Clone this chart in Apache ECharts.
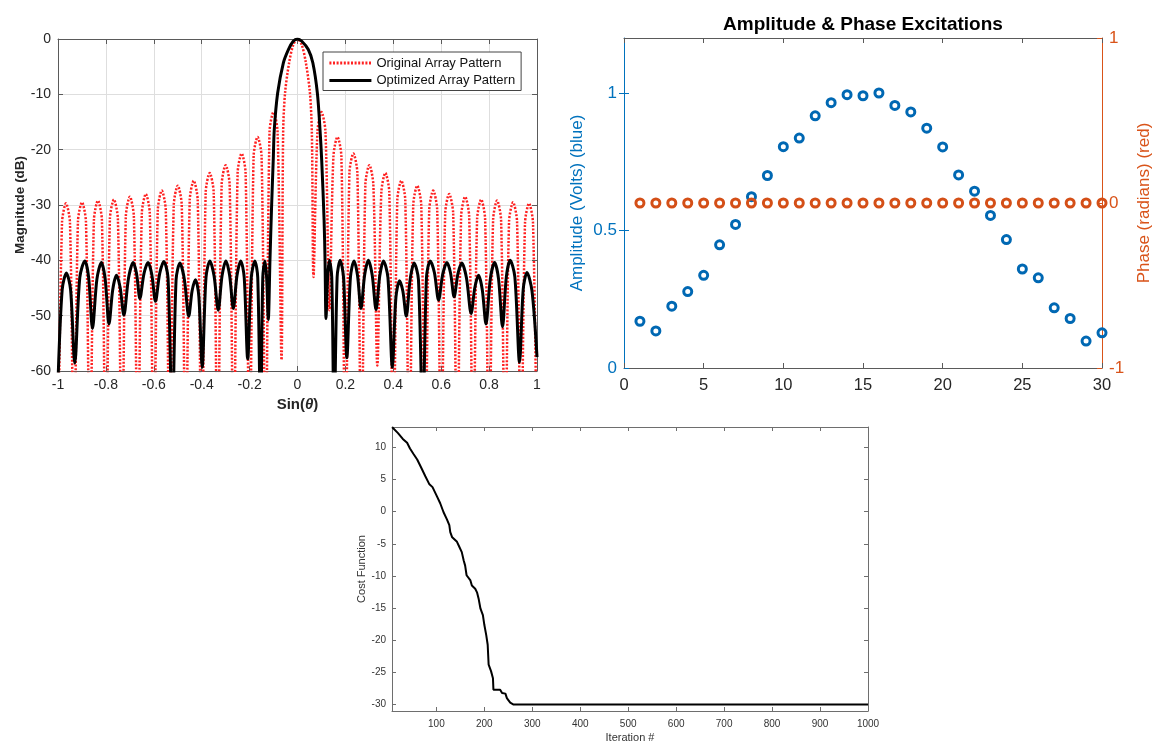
<!DOCTYPE html>
<html><head><meta charset="utf-8">
<script src="https://cdn.jsdelivr.net/npm/echarts@6/dist/echarts.min.js"></script>
<style>html,body{margin:0;padding:0;background:#fff}#c{width:1161px;height:744px}</style>
</head><body><div id="c"></div>
<script>
// ---------- Data ----------
// Top-left: array factor patterns, [sin(theta), dB]
const originalPattern = [
  [-1,-80],
  [-0.9833,-33.2],[-0.9667,-29.7],[-0.95,-33.2],[-0.9333,-80],
  [-0.9167,-33],[-0.9,-29.5],[-0.8833,-33],[-0.8667,-80],
  [-0.85,-32.7],[-0.8333,-29.2],[-0.8167,-32.7],[-0.8,-80],
  [-0.7833,-32.5],[-0.7667,-29.0],[-0.75,-32.5],[-0.7333,-80],
  [-0.7167,-32],[-0.7,-28.5],[-0.6833,-32],[-0.6667,-80],
  [-0.65,-31.5],[-0.6333,-28],[-0.6167,-31.5],[-0.6,-80],
  [-0.5833,-30.9],[-0.5667,-27.4],[-0.55,-30.9],[-0.5333,-80],
  [-0.5167,-30],[-0.5,-26.5],[-0.4833,-30],[-0.4667,-80],
  [-0.45,-29.1],[-0.4333,-25.6],[-0.4167,-29.1],[-0.4,-80],
  [-0.3833,-27.7],[-0.3667,-24.2],[-0.35,-27.7],[-0.3333,-80],
  [-0.3167,-26.3],[-0.3,-22.8],[-0.2833,-26.3],[-0.2667,-80],
  [-0.25,-24.2],[-0.2333,-20.7],[-0.2167,-24.2],[-0.2,-80],
  [-0.1833,-21.2],[-0.1667,-17.7],[-0.15,-21.2],[-0.1333,-80],
  [-0.1167,-16.7],[-0.1,-13.2],[-0.0833,-16.7],[-0.0667,-58],
  [-0.06,-17],[-0.052,-9.8],[-0.035,-4.3],[-0.018,-1.1],[0,0],
  [0.018,-1.1],[0.035,-4.3],[0.052,-9.8],[0.06,-17],[0.0667,-43],
  [0.0833,-16.7],[0.1,-13.2],[0.1167,-16.7],[0.1333,-49],
  [0.15,-21.2],[0.1667,-17.7],[0.1833,-21.2],[0.2,-80],
  [0.2167,-24.2],[0.2333,-20.7],[0.25,-24.2],[0.2667,-80],
  [0.2833,-26.3],[0.3,-22.8],[0.3167,-26.3],[0.3333,-59],
  [0.35,-27.7],[0.3667,-24.2],[0.3833,-27.7],[0.4,-80],
  [0.4167,-29.1],[0.4333,-25.6],[0.45,-29.1],[0.4667,-80],
  [0.4833,-30],[0.5,-26.5],[0.5167,-30],[0.5333,-80],
  [0.55,-30.9],[0.5667,-27.4],[0.5833,-30.9],[0.6,-80],
  [0.6167,-31.5],[0.6333,-28],[0.65,-31.5],[0.6667,-80],
  [0.6833,-32],[0.7,-28.5],[0.7167,-32],[0.7333,-80],
  [0.75,-32.5],[0.7667,-29],[0.7833,-32.5],[0.8,-80],
  [0.8167,-32.7],[0.8333,-29.2],[0.85,-32.7],[0.8667,-80],
  [0.8833,-33],[0.9,-29.5],[0.9167,-33],[0.9333,-80],
  [0.95,-33.2],[0.9667,-29.7],[0.9833,-33.2],[1,-80]
];
const optimizedPattern = [
  [-1,-62],[-0.9825,-45.3],[-0.965,-42.3],[-0.9475,-45.3],[-0.930,-58.6],
  [-0.909,-43.1],[-0.888,-40.1],[-0.872,-43.1],[-0.856,-52.3],
  [-0.8375,-43.4],[-0.819,-40.4],[-0.803,-43.4],[-0.787,-51.5],
  [-0.7715,-45.3],[-0.756,-42.7],[-0.7405,-44.9],[-0.725,-49.9],
  [-0.7055,-43.2],[-0.686,-40.4],[-0.672,-42.4],[-0.658,-46.9],
  [-0.641,-42.4],[-0.624,-40.4],[-0.6085,-42.5],[-0.593,-47.4],
  [-0.5755,-42.4],[-0.558,-40.2],[-0.5405,-43.2],[-0.523,-70],
  [-0.507,-43.5],[-0.491,-40.5],[-0.4725,-43.4],[-0.454,-50.1],
  [-0.44,-45.5],[-0.426,-43.5],[-0.412,-46.5],[-0.398,-59.3],
  [-0.382,-43.1],[-0.366,-40.1],[-0.3485,-42.8],[-0.331,-49.0],
  [-0.315,-42.8],[-0.299,-40.1],[-0.2835,-42.7],[-0.268,-48.7],
  [-0.2525,-42.7],[-0.237,-40.1],[-0.2225,-43.1],[-0.208,-57.8],
  [-0.193,-43.1],[-0.178,-40.1],[-0.166,-43.1],[-0.154,-70],
  [-0.145,-43.1],[-0.136,-40.1],[-0.129,-43.1],[-0.122,-50.7],
  [-0.115,-40],[-0.108,-30],[-0.101,-21.5],[-0.097,-16.4],[-0.083,-9.8],
  [-0.059,-4.3],[-0.038,-1.9],[-0.018,-0.4],[0,0],[0.018,-0.4],[0.045,-1.9],
  [0.064,-4.3],[0.083,-9.8],[0.094,-16.4],[0.101,-21.9],[0.111,-32.7],
  [0.115,-40],[0.119,-50.5],
  [0.126,-43],[0.133,-40],[0.143,-43],[0.153,-70],
  [0.1655,-43],[0.178,-40],[0.192,-43],[0.206,-57.6],
  [0.221,-43.1],[0.236,-40.1],[0.2505,-42.7],[0.265,-48.7],
  [0.2805,-42.6],[0.296,-40],[0.312,-42.7],[0.328,-48.9],
  [0.3435,-42.8],[0.359,-40.1],[0.3775,-43.1],[0.396,-59.3],
  [0.411,-46.7],[0.426,-43.7],[0.44,-45.6],[0.454,-50.1],
  [0.4705,-43.4],[0.487,-40.5],[0.505,-43.5],[0.523,-70],
  [0.5385,-43.1],[0.554,-40.1],[0.5715,-42.2],[0.589,-47.2],
  [0.6065,-42.5],[0.624,-40.4],[0.639,-42.3],[0.654,-46.6],
  [0.67,-42.4],[0.686,-40.5],[0.7055,-43.2],[0.725,-49.6],
  [0.7405,-44.9],[0.756,-42.7],[0.7715,-45.3],[0.787,-51.5],
  [0.805,-43.4],[0.823,-40.4],[0.8395,-43.4],[0.856,-52.0],
  [0.872,-43],[0.888,-40],[0.9075,-43],[0.927,-58.4],
  [0.9425,-45.2],[0.958,-42.2],[0.979,-45.5],[1,-57.5]
];

// Top-right: element excitations
const elementIndex = [1,2,3,4,5,6,7,8,9,10,11,12,13,14,15,16,17,18,19,20,21,22,23,24,25,26,27,28,29,30];
const amplitude = [0.170,0.135,0.225,0.278,0.337,0.448,0.522,0.623,0.700,0.805,
                   0.836,0.917,0.965,0.994,0.990,1.000,0.955,0.931,0.872,0.804,
                   0.702,0.643,0.555,0.467,0.360,0.328,0.219,0.180,0.098,0.128];
const phase = [0,0,0,0,0,0,0,0,0,0,0,0,0,0,0,0,0,0,0,0,0,0,0,0,0,0,0,0,0,0];
const amplitudeTicks = [0, 0.5, 1];

// Bottom: cost function convergence
const costIteration = [8,20,30,39,45,52,60,68,77,85,92,101,108,115,122,127,129,133,143,148,153,157,160,163,171,174,181,185,188,192,197,200,204,207,209,214,218,219,233,237,244,247,254,261,1000];
const costValue = [13.1,12.2,11.3,10.7,9.8,9.0,8.1,6.9,5.5,4.3,3.8,2.4,1.3,-0.1,-1.2,-2.1,-3.2,-4.0,-4.7,-5.5,-6.3,-7.6,-8.4,-9.9,-10.7,-11.5,-12.0,-12.6,-13.5,-15.1,-16.1,-17.6,-19.2,-20.7,-23.8,-24.8,-25.9,-27.7,-27.7,-28.2,-28.3,-29.0,-29.7,-30.0,-30.0];
const costXTicks = [100,200,300,400,500,600,700,800,900,1000];
const costYTicks = [-30,-25,-20,-15,-10,-5,0,5,10];

// ---------- Chart ----------
const FONT = '"Liberation Sans", Arial, Helvetica, sans-serif';
const AX = '#5a5a5a';
const LBL = '#262626';
const BLUE = '#0072BD';
const ORANGE = '#D95319';

const amplitudeData = elementIndex.map((n, i) => [n, amplitude[i]]);
const phaseData = elementIndex.map((n, i) => [n, phase[i]]);
const costData = costIteration.map((it, i) => [it, costValue[i]]);
const plain = v => String(v);

function mirror(base, pos) {
  return Object.assign({}, base, {
    position: pos, name: '',
    axisLabel: { show: false },
    splitLine: { show: false }
  });
}

const x0 = {
  type: 'value', gridIndex: 0, min: -1, max: 1, interval: 0.2,
  axisLine: { onZero: false, lineStyle: { color: AX, width: 1 } },
  axisTick: { inside: true, length: 5, lineStyle: { color: AX } },
  axisLabel: { fontSize: 14, color: LBL, margin: 7, fontFamily: FONT },
  splitLine: { show: true, lineStyle: { color: '#dedede', width: 1 } },
  name: '{a|Sin(}{b|θ}{a|)}', nameLocation: 'middle', nameGap: 26,
  nameTextStyle: { rich: {
    a: { fontSize: 15, fontWeight: 'bold', color: LBL, fontFamily: FONT },
    b: { fontSize: 15, fontWeight: 'bold', fontStyle: 'italic', color: LBL, fontFamily: FONT }
  } }
};
const y0 = {
  type: 'value', gridIndex: 0, min: -60, max: 0, interval: 10,
  axisLine: { onZero: false, lineStyle: { color: AX, width: 1 } },
  axisTick: { inside: true, length: 5, lineStyle: { color: AX } },
  axisLabel: { fontSize: 14, color: LBL, margin: 7, fontFamily: FONT },
  splitLine: { show: true, lineStyle: { color: '#dedede', width: 1 } },
  name: 'Magnitude (dB)', nameLocation: 'middle', nameGap: 31,
  nameTextStyle: { fontSize: 13.5, fontWeight: 'bold', color: LBL, fontFamily: FONT }
};

const x1 = {
  type: 'value', gridIndex: 1, min: 0, max: 30, interval: 5,
  axisLine: { onZero: false, lineStyle: { color: AX, width: 1 } },
  axisTick: { inside: true, length: 5, lineStyle: { color: AX } },
  axisLabel: { fontSize: 16.5, color: LBL, margin: 9, fontFamily: FONT },
  splitLine: { show: false }
};
const y1 = {
  type: 'value', gridIndex: 1, min: 0, max: 1.2, position: 'left',
  axisLine: { onZero: false, lineStyle: { color: BLUE, width: 1 } },
  axisTick: { inside: true, length: 5, customValues: amplitudeTicks, lineStyle: { color: BLUE } },
  axisLabel: { fontSize: 17, color: BLUE, margin: 7, customValues: amplitudeTicks, fontFamily: FONT },
  splitLine: { show: false },
  name: 'Amplitude (Volts) (blue)', nameLocation: 'middle', nameGap: 38,
  nameTextStyle: { fontSize: 17, color: BLUE, fontFamily: FONT }
};
const y1r = {
  type: 'value', gridIndex: 1, min: -1, max: 1, interval: 1, position: 'right',
  axisLine: { onZero: false, lineStyle: { color: ORANGE, width: 1 } },
  axisTick: { inside: true, length: 5, lineStyle: { color: ORANGE } },
  axisLabel: { fontSize: 17, color: ORANGE, margin: 7, fontFamily: FONT },
  splitLine: { show: false },
  name: 'Phase (radians) (red)', nameLocation: 'middle', nameGap: 34,
  nameTextStyle: { fontSize: 17, color: ORANGE, fontFamily: FONT }
};
const y1m = {
  type: 'value', gridIndex: 1, min: 0, max: 1.2, position: 'right',
  axisLine: { show: false },
  axisTick: { inside: true, length: 5, customValues: [0.5, 1], lineStyle: { color: BLUE } },
  axisLabel: { show: false }, splitLine: { show: false }
};

const x2 = {
  type: 'value', gridIndex: 2, min: 7.5, max: 1000,
  axisLine: { onZero: false, lineStyle: { color: '#6e6e6e', width: 1 } },
  axisTick: { inside: true, length: 4, customValues: costXTicks, lineStyle: { color: '#6e6e6e' } },
  axisLabel: { fontSize: 10, color: '#333', margin: 8, customValues: costXTicks, formatter: plain, fontFamily: FONT },
  splitLine: { show: false },
  name: 'Iteration #', nameLocation: 'middle', nameGap: 21,
  nameTextStyle: { fontSize: 11, color: '#333', fontFamily: FONT }
};
const y2 = {
  type: 'value', gridIndex: 2, min: -31, max: 13.15,
  axisLine: { onZero: false, lineStyle: { color: '#6e6e6e', width: 1 } },
  axisTick: { inside: true, length: 4, customValues: costYTicks, lineStyle: { color: '#6e6e6e' } },
  axisLabel: { fontSize: 10, color: '#333', margin: 6, customValues: costYTicks, formatter: plain, fontFamily: FONT },
  splitLine: { show: false },
  name: 'Cost Function', nameLocation: 'middle', nameGap: 23,
  nameTextStyle: { fontSize: 11, color: '#333', fontFamily: FONT }
};

const option = {
  animation: false,
  backgroundColor: '#ffffff',
  grid: [
    { left: 58, top: 39, width: 479, height: 332 },
    { left: 624, top: 38, width: 478, height: 330 },
    { left: 392, top: 427, width: 476, height: 286 }
  ],
  xAxis: [x0, mirror(x0, 'top'), x1, mirror(x1, 'top'), x2, mirror(x2, 'top')],
  yAxis: [y0, mirror(y0, 'right'), y1, y1r, y1m, y2, mirror(y2, 'right')],
  legend: {
    data: ['Original Array Pattern', 'Optimized Array Pattern'],
    orient: 'vertical', left: 323, top: 52,
    itemWidth: 42, itemHeight: 12, itemGap: 4.5,
    padding: [4.5, 6, 3.5, 5],
    backgroundColor: '#ffffff', borderColor: '#444', borderWidth: 1, borderRadius: 0,
    selectedMode: false,
    itemStyle: { color: 'rgba(0,0,0,0)', borderColor: 'rgba(0,0,0,0)', borderWidth: 0, opacity: 0 },
    lineStyle: { width: 2.8 },
    textStyle: { fontSize: 13, color: '#111', fontFamily: FONT, padding: [0, 0, 0, 0] }
  },
  graphic: [
    { type: 'text', x: 863, y: 25, z: 10,
      style: { text: 'Amplitude & Phase Excitations', textAlign: 'center', textVerticalAlign: 'middle',
               verticalAlign: 'middle', fill: '#000', font: 'bold 19px "Liberation Sans", Arial, sans-serif' } }
  ],
  series: [
    { type: 'line', name: 'Original Array Pattern', xAxisIndex: 0, yAxisIndex: 0,
      data: originalPattern, symbol: 'none', smooth: 0.3, clip: true, z: 2,
      lineStyle: { color: '#ff2020', width: 2.5, type: [2, 1.6] }, itemStyle: { color: '#ff2020' } },
    { type: 'line', name: 'Optimized Array Pattern', xAxisIndex: 0, yAxisIndex: 0,
      data: optimizedPattern, symbol: 'none', smooth: 0.3, clip: true, z: 3,
      lineStyle: { color: '#000', width: 3 }, itemStyle: { color: '#000' } },
    { type: 'scatter', name: 'Amplitude', xAxisIndex: 2, yAxisIndex: 2, data: amplitudeData,
      symbol: 'circle', symbolSize: 8, clip: false, z: 3,
      itemStyle: { color: 'rgba(255,255,255,0)', borderColor: '#0068B3', borderWidth: 3, opacity: 1 } },
    { type: 'scatter', name: 'Phase', xAxisIndex: 2, yAxisIndex: 3, data: phaseData,
      symbol: 'circle', symbolSize: 8, clip: false, z: 4,
      itemStyle: { color: 'rgba(255,255,255,0)', borderColor: '#D44F17', borderWidth: 3, opacity: 1 } },
    { type: 'line', name: 'Cost', xAxisIndex: 4, yAxisIndex: 5, data: costData,
      symbol: 'none', clip: true, lineStyle: { color: '#000', width: 2 } }
  ]
};

const chart = echarts.init(document.getElementById('c'), null, { renderer: 'canvas' });
chart.setOption(option);
</script>
</body></html>
